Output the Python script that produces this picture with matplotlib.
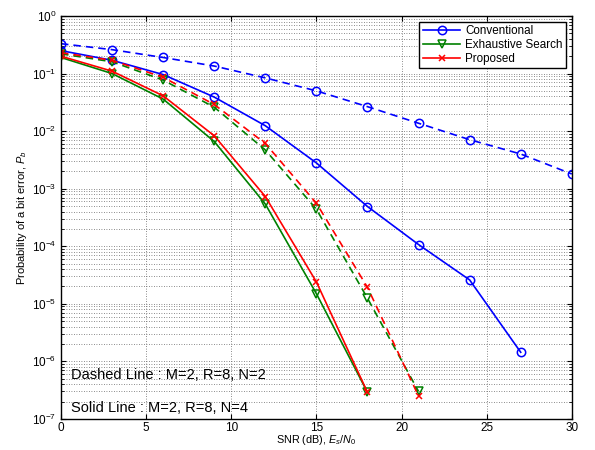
import matplotlib
matplotlib.use("Agg")
import matplotlib.pyplot as plt
from matplotlib.ticker import LogLocator, NullFormatter

plt.rcParams["font.family"] = ["Liberation Sans", "DejaVu Sans"]
plt.rcParams["mathtext.fontset"] = "custom"
plt.rcParams["mathtext.it"] = "Liberation Sans:italic"
plt.rcParams["mathtext.rm"] = "Liberation Sans"

# SNR points (dB)
snr_n2_conv = [0, 3, 6, 9, 12, 15, 18, 21, 24, 27, 30]
snr_n2 = [0, 3, 6, 9, 12, 15, 18, 21]
snr_n4_conv = [0, 3, 6, 9, 12, 15, 18, 21, 24, 27]
snr_n4 = [0, 3, 6, 9, 12, 15, 18]

# Dashed: M=2, R=8, N=2
conv_n2 = [0.33, 0.26, 0.19, 0.135, 0.084, 0.050, 0.0266, 0.0137, 0.0071, 0.0040, 0.0018]
exh_n2 = [0.22, 0.16, 0.077, 0.026, 0.0047, 0.00044, 1.25e-5, 3.0e-7]
prop_n2 = [0.23, 0.17, 0.086, 0.029, 0.0061, 0.00056, 1.93e-5, 2.5e-7]

# Solid: M=2, R=8, N=4
conv_n4 = [0.25, 0.17, 0.096, 0.039, 0.0124, 0.0028, 0.00049, 1.07e-4, 2.6e-5, 1.44e-6]
exh_n4 = [0.19, 0.10, 0.036, 0.0066, 0.00054, 1.5e-5, 2.9e-7]
prop_n4 = [0.20, 0.11, 0.041, 0.0083, 0.00073, 2.4e-5, 2.9e-7]

BLUE = "#0000ff"
GREEN = "#008000"
RED = "#ff0000"
DASH = (0, (4.5, 3))

fig = plt.figure(figsize=(5.95, 4.5), dpi=100)
ax = fig.add_axes([0.1025, 0.069, 0.8585, 0.8955])

lw = 1.2
ax.semilogy(snr_n4_conv, conv_n4, "-o", color=BLUE, lw=lw, ms=6, mfc="none", mew=1.1, label="Conventional")
ax.semilogy(snr_n4, exh_n4, "-v", color=GREEN, lw=lw, ms=6, mfc="none", mew=1.1, label="Exhaustive Search")
ax.semilogy(snr_n4, prop_n4, "-x", color=RED, lw=lw, ms=5, mew=1.1, label="Proposed")

ax.semilogy(snr_n2_conv, conv_n2, marker="o", ls=DASH, color=BLUE, lw=lw, ms=6, mfc="none", mew=1.1)
ax.semilogy(snr_n2, exh_n2, marker="v", ls=DASH, color=GREEN, lw=lw, ms=6, mfc="none", mew=1.1)
ax.semilogy(snr_n2, prop_n2, marker="x", ls=DASH, color=RED, lw=lw, ms=5, mew=1.1)

ax.set_xlim(0, 30)
ax.set_ylim(1e-7, 1)
ax.set_xticks([0, 5, 10, 15, 20, 25, 30])
ax.yaxis.set_major_locator(LogLocator(base=10, numticks=10))
ax.yaxis.set_minor_locator(LogLocator(base=10, subs=range(2, 10), numticks=10))
ax.yaxis.set_minor_formatter(NullFormatter())

ax.grid(True, which="major", linestyle=(0, (1, 2)), color="#666666", lw=0.6)
ax.grid(True, which="minor", axis="y", linestyle=(0, (1, 2)), color="#666666", lw=0.6)
ax.tick_params(which="both", direction="in", top=True, right=True, labelsize=8.5)
ax.tick_params(axis="x", pad=2)
for s in ax.spines.values():
    s.set_linewidth(1.0)

ax.set_xlabel("SNR (dB), $E_s/N_0$", fontsize=7.8)
ax.xaxis.set_label_coords(0.5, -0.036)
ax.set_ylabel("Probability of a bit error, $P_b$", fontsize=8, labelpad=2)

ax.text(0.6, 5.9e-7, "Dashed Line : M=2, R=8, N=2", fontsize=10.5, va="center")
ax.text(0.6, 1.55e-7, "Solid Line : M=2, R=8, N=4", fontsize=10.5, va="center")

leg = ax.legend(loc="upper right", fontsize=8.4, fancybox=False, edgecolor="black",
                framealpha=1, borderpad=0.3, labelspacing=0.15, handlelength=3.2,
                borderaxespad=0.5, handletextpad=0.4)
leg.get_frame().set_linewidth(1.0)

fig.savefig("out.png", dpi=100)
